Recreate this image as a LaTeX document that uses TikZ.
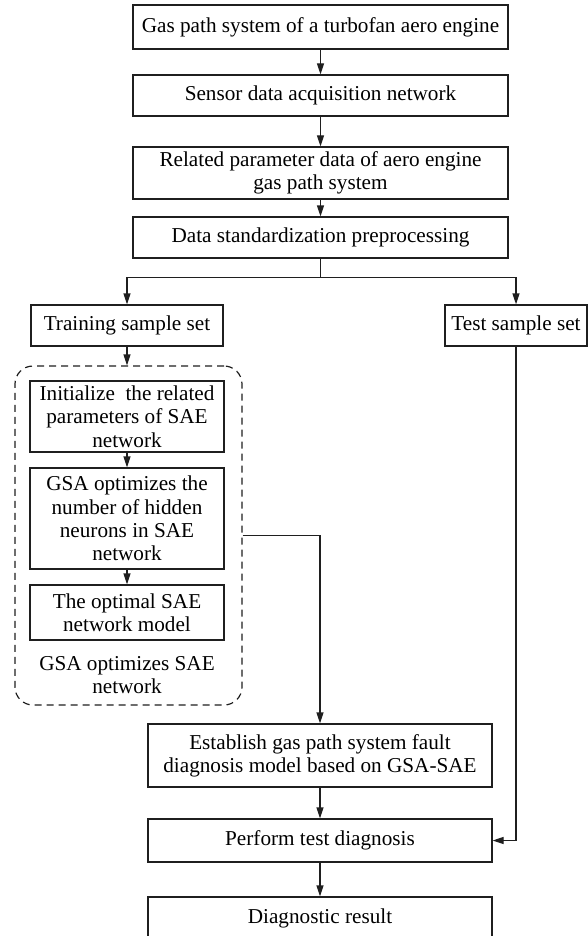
\documentclass[tikz,border=0pt]{standalone}
\usepackage{fontspec}
\setmainfont{Liberation Serif}
\usetikzlibrary{arrows.meta}
\begin{document}
\begin{tikzpicture}[x=1pt,y=-1pt,
  box/.style={draw=black!88, line width=1.3pt, inner sep=0pt, align=center,
    font=\fontsize{21.2pt}{23.3pt}\selectfont},
  grpbox/.style={draw=black!88, line width=1.2pt, dash pattern=on 7pt off 5pt, rounded corners=18pt, inner sep=0pt},
  lbl/.style={inner sep=0pt, align=center, font=\fontsize{21.2pt}{23.3pt}\selectfont},
  arr/.style={draw=black!88, line width=1.3pt, -{Triangle[length=11pt,width=7pt]}},
  ln/.style={draw=black!88, line width=1.3pt}]
\useasboundingbox (0,0) rectangle (588,936);

\node[box, minimum width=375pt, minimum height=44pt] (n1) at (320.5,27) {Gas path system of a turbofan aero engine};
\node[box, minimum width=375pt, minimum height=41pt] (n2) at (320.5,95.5) {Sensor data acquisition network};
\node[box, minimum width=375pt, minimum height=52pt] (n3) at (320.5,173) {Related parameter data of aero engine\\gas path system};
\node[box, minimum width=375pt, minimum height=41pt] (n4) at (320.5,237.5) {Data standardization preprocessing};

\node[box, minimum width=192pt, minimum height=41pt] (train) at (127,325.5) {Training sample set};
\node[box, minimum width=142pt, minimum height=41pt] (test) at (516,325.5) {Test sample set};

\node[grpbox, minimum width=227pt, minimum height=339pt] (grp) at (128.5,535.5) {};
\node[box, minimum width=194pt, minimum height=71pt] (init) at (127,416.5) {Initialize~ the related\\parameters of SAE\\network};
\node[box, minimum width=194pt, minimum height=101pt] (gsa) at (127,518.5) {GSA optimizes the\\number of hidden\\neurons in SAE\\network};
\node[box, minimum width=194pt, minimum height=55pt] (opt) at (127,612.5) {The optimal SAE\\network model};
\node[lbl] (glabel) at (127,675) {GSA optimizes SAE\\network};

\node[box, minimum width=344pt, minimum height=63pt] (est) at (320,755.5) {Establish gas path system fault\\diagnosis model based on GSA-SAE};
\node[box, minimum width=344pt, minimum height=43pt] (perf) at (320,840.5) {Perform test diagnosis};
\node[box, minimum width=344pt, minimum height=43pt] (diag) at (320,918.5) {Diagnostic result};

\draw[arr] (n1.south) -- (n2.north);
\draw[arr] (n2.south) -- (n3.north);
\draw[arr] (n3.south) -- (n4.north);
\draw[ln] (n4.south) -- ++(0,19) coordinate (br);
\draw[arr] (br) -| (train.north);
\draw[arr] (br) -| (test.north);
\draw[arr] (train.south) -- (train.south |- grp.north);
\draw[arr] (init.south) -- (gsa.north);
\draw[arr] (gsa.south) -- (opt.north);
\draw[arr] (grp.east) -| (est.north);
\draw[arr] (est.south) -- (perf.north);
\draw[arr] (test.south) |- (perf.east);
\draw[arr] (perf.south) -- (diag.north);
\end{tikzpicture}
\end{document}
